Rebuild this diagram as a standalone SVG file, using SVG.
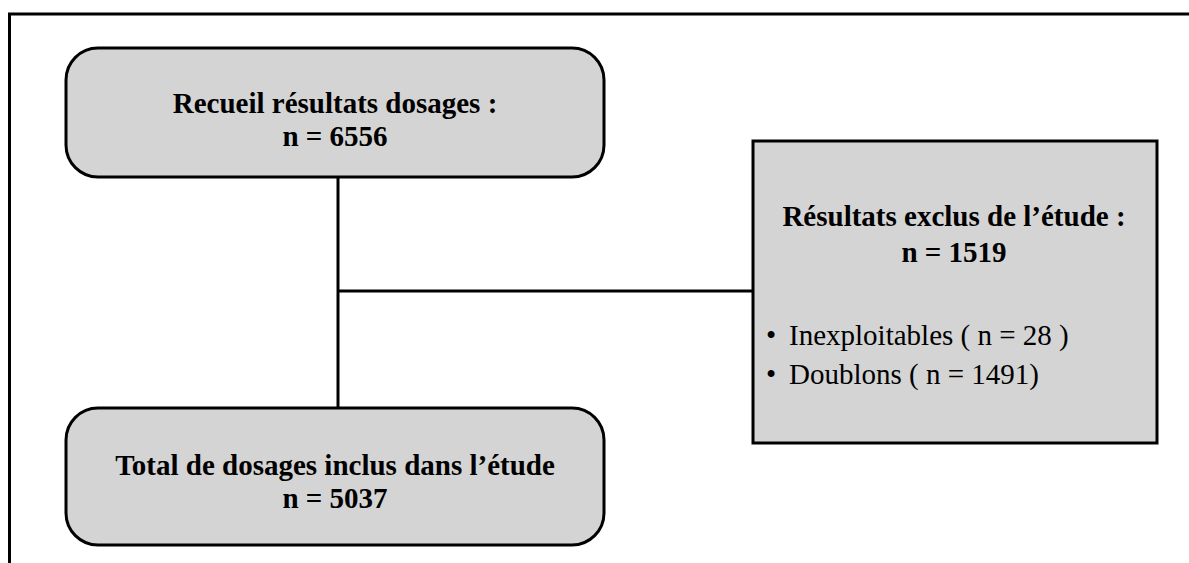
<svg xmlns="http://www.w3.org/2000/svg" width="1189" height="563" viewBox="0 0 1189 563">
<style>
.box{fill:#d4d4d4;stroke:#000;stroke-width:3}
.line{stroke:#000;stroke-width:3;fill:none}
.b{font-family:"Liberation Serif","Times New Roman",serif;font-weight:bold;font-size:29px;fill:#000;text-anchor:middle}
.r{font-family:"Liberation Serif","Times New Roman",serif;font-size:29px;fill:#000}
</style>
<rect width="1189" height="563" fill="#fff"/>
<g id="frame">
<path class="line" d="M9.5,563 V14 H1189"/>
</g>
<g id="connectors">
<path class="line" d="M338,177 V408"/>
<path class="line" d="M338,291 H753"/>
</g>
<g id="node-recueil">
<rect class="box" x="66" y="48" width="538" height="129" rx="32"/>
<text class="b" x="335" y="113">Recueil résultats dosages :</text>
<text class="b" x="335" y="146">n = 6556</text>
</g>
<g id="node-exclus">
<rect class="box" x="753" y="141" width="404" height="302"/>
<text class="b" x="954" y="226">Résultats exclus de l’étude :</text>
<text class="b" x="954" y="262">n = 1519</text>
<text class="r" x="766" y="345">•</text>
<text class="r" x="789" y="345">Inexploitables ( n = 28 )</text>
<text class="r" x="766" y="384">•</text>
<text class="r" x="789" y="384">Doublons ( n = 1491)</text>
</g>
<g id="node-total">
<rect class="box" x="66" y="408" width="538" height="137" rx="32"/>
<text class="b" x="335" y="475">Total de dosages inclus dans l’étude</text>
<text class="b" x="335" y="508">n = 5037</text>
</g>
</svg>
